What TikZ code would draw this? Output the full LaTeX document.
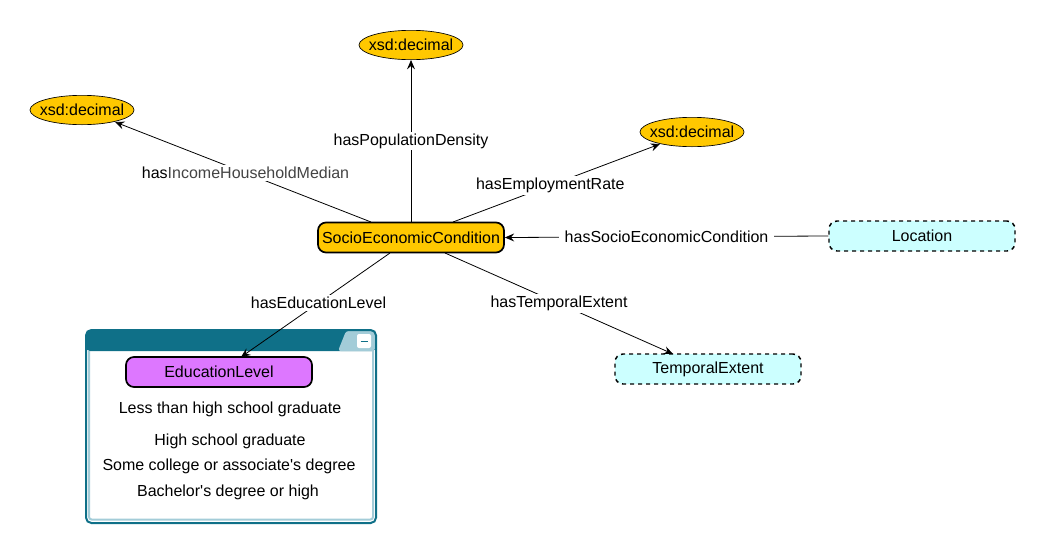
\documentclass[tikz,border=0pt]{standalone}
\usepackage{fontspec}
\setmainfont{Liberation Sans}
\usetikzlibrary{shapes.geometric,arrows.meta}
\definecolor{gold}{HTML}{FFC800}
\definecolor{paleCyan}{HTML}{CCFFFF}
\definecolor{violet}{HTML}{DD77FF}
\definecolor{teal}{HTML}{0F7088}
\definecolor{tealLight}{HTML}{A3CCD8}
\definecolor{labelGray}{HTML}{444444}
\tikzset{
  every node/.style={font=\fontsize{12pt}{14pt}\selectfont, text=black},
  classbox/.style={draw=black, line width=1.3pt, rounded corners=6pt,
    minimum width=139.5pt, minimum height=22.5pt, inner sep=0pt},
  mainclass/.style={classbox, fill=gold},
  extclass/.style={classbox, fill=paleCyan, dashed, line width=1.1pt},
  levelclass/.style={classbox, fill=violet},
  datatype/.style={ellipse, draw=black, line width=0.5pt, fill=gold,
    minimum width=78pt, minimum height=22pt, inner xsep=-4.5pt, inner ysep=0pt},
  rel/.style={draw=black, line width=0.6pt, -{Stealth[length=7pt,width=6pt,inset=2.5pt]}},
  rellabel/.style={fill=white, inner xsep=4pt, inner ysep=1.5pt},
  itemtext/.style={font=\fontsize{12pt}{14pt}\selectfont}
}
\begin{document}
\begin{tikzpicture}[x=0.75pt,y=-0.75pt]
  \path[use as bounding box] (0,0) rectangle (1045,554);

  % container holding the enumerated education levels
  \fill[white] (86,330) rectangle (376,523);
  \fill[teal, rounded corners=3pt] (86,351) -- (86,330) -- (376,330) -- (376,351) -- cycle;
  \fill[tealLight, rounded corners=2pt] (338,351) -- (346,331) -- (375,331) -- (375,351) -- cycle;
  \fill[white, rounded corners=1.5pt] (357,334) rectangle (371,348);
  \draw[teal, line width=1.4pt] (360.5,341.5) -- (367.5,341.5);
  \draw[tealLight, line width=1.5pt, rounded corners=2pt] (89,351) -- (89,519.5) -- (373,519.5) -- (373,351);
  \draw[teal, line width=1.5pt, rounded corners=4pt] (86,330) rectangle (376,523);

  % classes
  \node[mainclass] (sec) at (411,237.5) {SocioEconomicCondition};
  \node[extclass] (loc) at (922,236) {Location};
  \node[extclass] (temp) at (708,369) {TemporalExtent};
  \node[levelclass] (edu) at (219,372) {EducationLevel};

  % datatypes
  \node[datatype] (dtTop) at (411,45) {xsd:decimal};
  \node[datatype] (dtLeft) at (82,110) {xsd:decimal};
  \node[datatype] (dtRight) at (692,132) {xsd:decimal};

  % enumerated values
  \node[itemtext] (lv1) at (230,409) {Less than high school graduate};
  \node[itemtext] (lv2) at (230,441) {High school graduate};
  \node[itemtext] (lv3) at (229,466) {Some college or associate\textquotesingle s degree};
  \node[itemtext] (lv4) at (228,492) {Bachelor\textquotesingle s degree or high};

  % anchor points on the main class border
  \coordinate (sL) at (371,222);
  \coordinate (sT) at (411,222);
  \coordinate (sR) at (453,222);
  \coordinate (bL) at (390,253);
  \coordinate (bR) at (445,253);
  \coordinate (eduIn) at (241,357);
  \coordinate (tempIn) at (673,354);
  \coordinate (dlIn) at (115,122);
  \coordinate (drIn) at (660,144);

  % relations
  \draw[rel] (sL) -- node[rellabel, pos=0.49] {has\textcolor{labelGray}{IncomeHouseholdMedian}} (dlIn);
  \draw[rel] (sT) -- node[rellabel, pos=0.5] {hasPopulationDensity} (dtTop.south);
  \draw[rel] (sR) -- node[rellabel, pos=0.47] {hasEmploymentRate} (drIn);
  \draw[rel] (loc.west) -- node[rellabel, pos=0.50] {hasSocioEconomicCondition} (sec.east);
  \draw[rel] (bL) -- node[rellabel, pos=0.48] {hasEducationLevel} (eduIn);
  \draw[rel] (bR) -- node[rellabel, pos=0.5] {hasTemporalExtent} (tempIn);
\end{tikzpicture}
\end{document}
